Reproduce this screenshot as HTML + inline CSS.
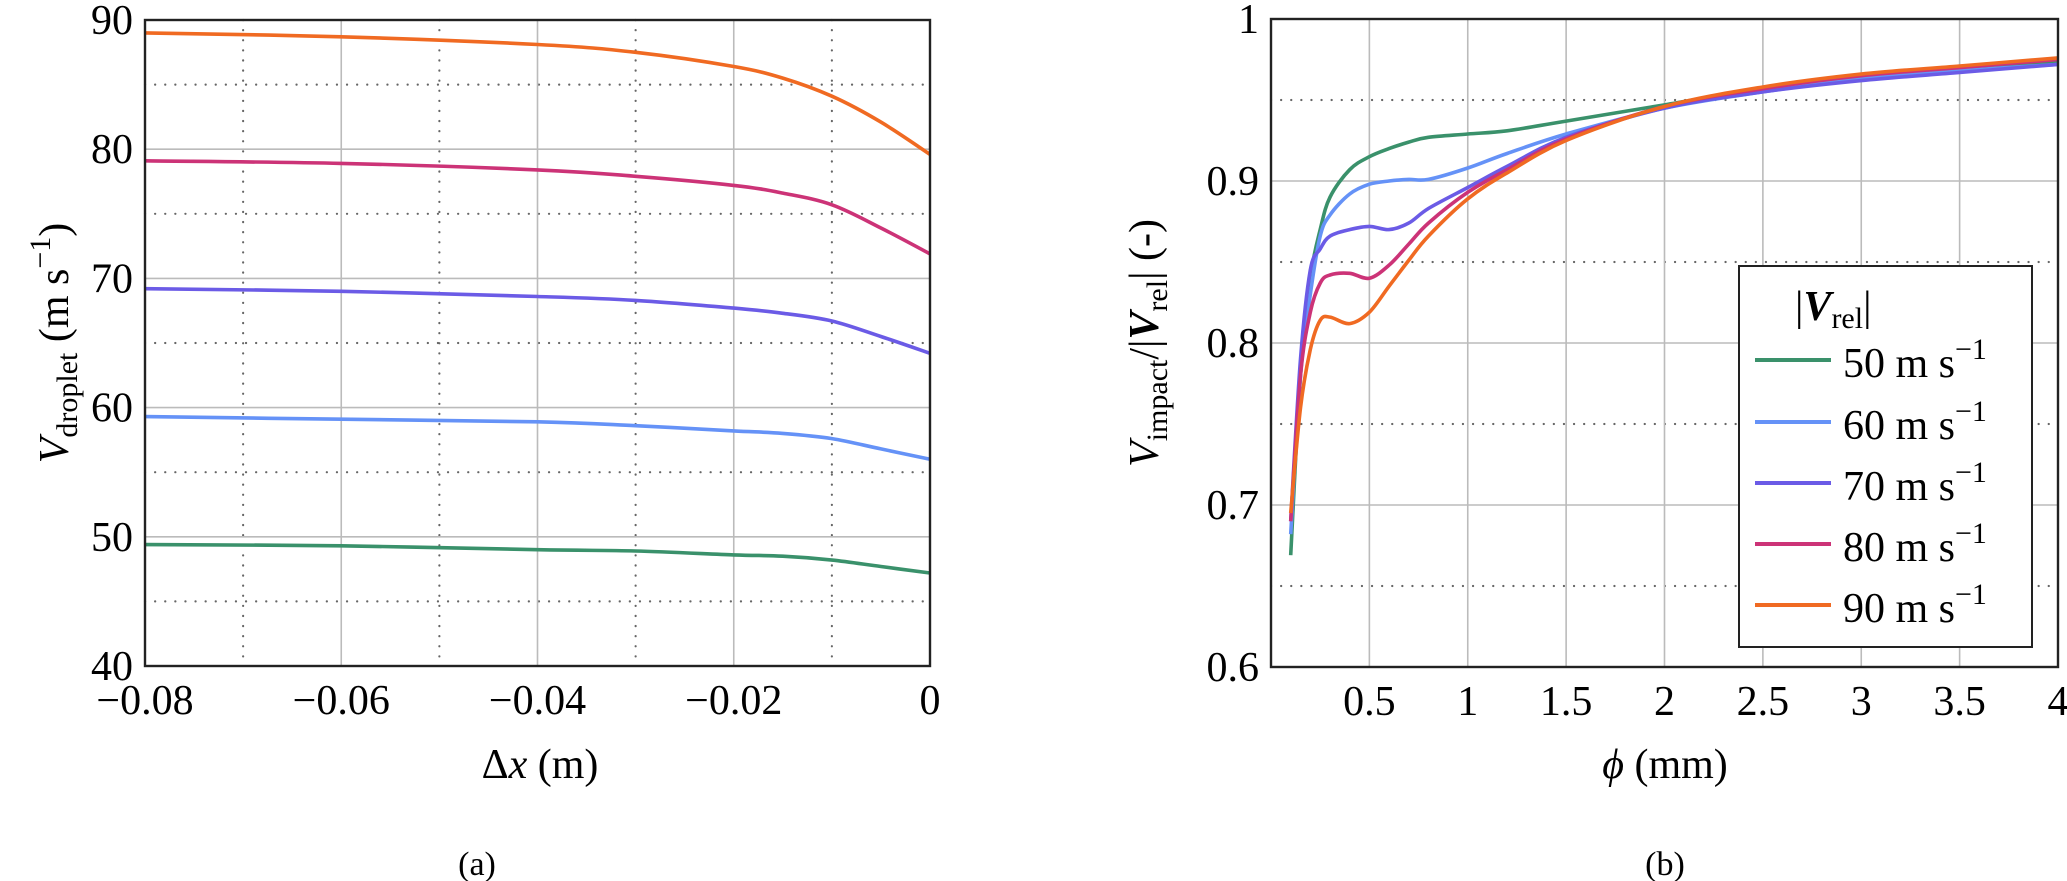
<!DOCTYPE html>
<html><head><meta charset="utf-8"><style>
html,body{margin:0;padding:0;background:#fff;}
svg{display:block;font-family:"Liberation Serif",serif;}
svg text, svg tspan{font-family:"Liberation Serif","DejaVu Serif",serif;}
</style></head><body>
<svg id="fig" width="2067" height="881" viewBox="0 0 2067 881" xmlns="http://www.w3.org/2000/svg" font-family="Liberation Serif, serif">
<g id="ga"></g>
<g id="gb"></g>
</svg>
<script>
const colors=["#3a916b","#6592f7","#6b5be6","#cc3377","#f06a22"];
const seriesNames=["50","60","70","80","90"];
// Chart (a)
const xA=[-0.08,-0.06,-0.04,-0.03,-0.02,-0.015,-0.01,-0.005,0];
const vA50=[49.4,49.3,49.0,48.9,48.6,48.5,48.2,47.7,47.2];
const vA60=[59.3,59.1,58.9,58.6,58.2,58.0,57.6,56.8,56.0];
const vA70=[69.2,69.0,68.6,68.3,67.7,67.3,66.7,65.5,64.2];
const vA80=[79.1,78.9,78.4,77.9,77.2,76.6,75.7,73.9,71.9];
const vA90=[89.0,88.7,88.1,87.5,86.4,85.5,84.1,82.1,79.6];
const xTicksA=[-0.08,-0.06,-0.04,-0.02,0];
const xTickLabelsA=["\u22120.08","\u22120.06","\u22120.04","\u22120.02","0"];
const yTicksA=[40,50,60,70,80,90];
// Chart (b)
const xB=[0.1,0.15,0.2,0.25,0.3,0.4,0.5,0.6,0.7,0.8,1.0,1.2,1.5,2,2.5,3,3.5,4];
const vB50=[0.669,0.78,0.84,0.87,0.89,0.907,0.915,0.920,0.924,0.927,0.929,0.931,0.937,0.947,0.957,0.964,0.969,0.974];
const vB60=[0.682,0.78,0.83,0.866,0.879,0.892,0.898,0.900,0.901,0.901,0.908,0.917,0.929,0.945,0.955,0.963,0.968,0.972];
const vB70=[0.69,0.79,0.845,0.858,0.866,0.870,0.872,0.870,0.874,0.883,0.896,0.909,0.927,0.945,0.955,0.962,0.967,0.972];
const vB80=[0.69,0.78,0.819,0.837,0.842,0.843,0.840,0.848,0.861,0.874,0.893,0.907,0.926,0.946,0.957,0.965,0.970,0.975];
const vB90=[0.695,0.76,0.796,0.814,0.816,0.812,0.819,0.835,0.851,0.866,0.889,0.905,0.925,0.946,0.958,0.966,0.971,0.976];
const xTicksB=[0.5,1,1.5,2,2.5,3,3.5,4];
const xTickLabelsB=["0.5","1","1.5","2","2.5","3","3.5","4"];
const yTicksB=[0.6,0.7,0.8,0.9,1];
const yTickLabelsB=["0.6","0.7","0.8","0.9","1"];

const NS="http://www.w3.org/2000/svg";
function mk(parent,tag,attrs){const e=document.createElementNS(NS,tag);for(const k in attrs)e.setAttribute(k,attrs[k]);parent.appendChild(e);return e;}
function pathD(xs,ys,sx,sy){
  const p=xs.map((x,i)=>[sx(x),sy(ys[i])]);
  let d="M"+p[0][0].toFixed(1)+","+p[0][1].toFixed(1);
  for(let i=0;i<p.length-1;i++){
    const p0=p[Math.max(0,i-1)],p1=p[i],p2=p[i+1],p3=p[Math.min(p.length-1,i+2)];
    const c1=[p1[0]+(p2[0]-p0[0])/6,p1[1]+(p2[1]-p0[1])/6];
    const c2=[p2[0]-(p3[0]-p1[0])/6,p2[1]-(p3[1]-p1[1])/6];
    d+=" C"+c1[0].toFixed(1)+","+c1[1].toFixed(1)+" "+c2[0].toFixed(1)+","+c2[1].toFixed(1)+" "+p2[0].toFixed(1)+","+p2[1].toFixed(1);
  }
  return d;
}
const FS=42;
// ---- Chart A ----
(function(){
  const g=document.getElementById('ga');
  const L=145,R=930,T=20,B=666;
  const sx=x=>L+(x+0.08)/0.08*(R-L);
  const sy=y=>B-(y-40)/50*(B-T);
  [-0.07,-0.05,-0.03,-0.01].forEach(v=>{const l=mk(g,'line',{x1:sx(v),x2:sx(v),y1:T,y2:B,stroke:'#666','stroke-width':2.2,'stroke-dasharray':'0.1 10','stroke-linecap':'round'});
    
    });
  [45,55,65,75,85].forEach(v=>{const l=mk(g,'line',{x1:L,x2:R,y1:sy(v),y2:sy(v),stroke:'#666','stroke-width':2.2,'stroke-dasharray':'0.1 10','stroke-linecap':'round'});
    
    });
  xTicksA.forEach((v,i)=>{const l=mk(g,'line',{x1:sx(v),x2:sx(v),y1:T,y2:B,stroke:'#bbb','stroke-width':1.6});
    
    
    const t=mk(g,'text',{x:sx(v),y:B+48,'font-size':FS,'text-anchor':'middle'});t.textContent=xTickLabelsA[i];
    
    });
  yTicksA.forEach(v=>{const l=mk(g,'line',{x1:L,x2:R,y1:sy(v),y2:sy(v),stroke:'#bbb','stroke-width':1.6});
    
    
    const t=mk(g,'text',{x:L-12,y:sy(v)+14,'font-size':FS,'text-anchor':'end'});t.textContent=String(v);
    
    });
  const ser=[vA50,vA60,vA70,vA80,vA90];
  ser.forEach((s,i)=>{const p=mk(g,'path',{d:pathD(xA,s,sx,sy),fill:'none',stroke:colors[i],'stroke-width':3.6});
    
    });
  const f=mk(g,'rect',{x:L,y:T,width:R-L,height:B-T,fill:'none',stroke:'#222','stroke-width':2.4});
  
  
})();
// ---- Chart B ----
(function(){
  const g=document.getElementById('gb');
  const L=1271,R=2058,T=19,B=667;
  const sx=x=>L+x/4*(R-L);
  const sy=y=>B-(y-0.6)/0.4*(B-T);
  [0.65,0.75,0.85,0.95].forEach(v=>{const l=mk(g,'line',{x1:L,x2:R,y1:sy(v),y2:sy(v),stroke:'#666','stroke-width':2.2,'stroke-dasharray':'0.1 10','stroke-linecap':'round'});
    
    });
  xTicksB.forEach((v,i)=>{const l=mk(g,'line',{x1:sx(v),x2:sx(v),y1:T,y2:B,stroke:'#bbb','stroke-width':1.6});
    
    
    const t=mk(g,'text',{x:sx(v),y:B+48,'font-size':FS,'text-anchor':'middle'});t.textContent=xTickLabelsB[i];
    
    });
  yTicksB.forEach((v,i)=>{const l=mk(g,'line',{x1:L,x2:R,y1:sy(v),y2:sy(v),stroke:'#bbb','stroke-width':1.6});
    
    
    const t=mk(g,'text',{x:L-12,y:sy(v)+14,'font-size':FS,'text-anchor':'end'});t.textContent=yTickLabelsB[i];
    
    });
  const ser=[vB50,vB60,vB70,vB80,vB90];
  ser.forEach((s,i)=>{const p=mk(g,'path',{d:pathD(xB,s,sx,sy),fill:'none',stroke:colors[i],'stroke-width':3.6});
    
    });
  const f=mk(g,'rect',{x:L,y:T,width:R-L,height:B-T,fill:'none',stroke:'#222','stroke-width':2.4});
  
  
  // legend
  const lg=mk(g,'g',{});
  
  
  mk(lg,'rect',{x:1739,y:266,width:293,height:381,fill:'#fff',stroke:'#222','stroke-width':2});
  const tt=mk(lg,'text',{x:1795,y:320,'font-size':FS});
  tt.innerHTML='|<tspan font-weight="bold" font-style="italic">V</tspan><tspan font-size="30" dy="8">rel</tspan><tspan dy="-8">|</tspan>';
  
  
  const ys=[363,425,486,547,608];
  seriesNames.forEach((n,i)=>{
    const l=mk(lg,'line',{x1:1755,x2:1831,y1:ys[i]-3,y2:ys[i]-3,stroke:colors[i],'stroke-width':4});
    
    
    const t=mk(lg,'text',{x:1843,y:ys[i]+14,'font-size':FS});
    t.innerHTML=n+' m s<tspan font-size="30" dy="-18">\u22121</tspan>';
    
    
  });
})();
</script>
<script>
(function(){
  const s=document.getElementById('fig');
  const NS="http://www.w3.org/2000/svg";
  function txt(html,attrs,name){const t=document.createElementNS(NS,'text');for(const k in attrs)t.setAttribute(k,attrs[k]);t.innerHTML=html;s.appendChild(t);
    
    }
  txt('<tspan font-style="italic">V</tspan><tspan font-size="30" dy="9">droplet</tspan><tspan dy="-9"> (m s</tspan><tspan font-size="30" dy="-18">\u22121</tspan><tspan dy="18">)</tspan>',
    {x:0,y:0,'font-size':42,'text-anchor':'middle',transform:'translate(68,343) rotate(-90)'},'y-axis-title-a');
  txt('<tspan font-style="italic">V</tspan><tspan font-size="30" dy="9">impact</tspan><tspan dy="-9">/|</tspan><tspan font-weight="bold" font-style="italic">V</tspan><tspan font-size="30" dy="9">rel</tspan><tspan dy="-9">| (-)</tspan>',
    {x:0,y:0,'font-size':42,'text-anchor':'middle',transform:'translate(1158,343) rotate(-90)'},'y-axis-title-b');
  txt('\u0394<tspan font-style="italic">x</tspan> (m)',{x:540,y:778,'font-size':42,'text-anchor':'middle'},'x-axis-title-a');
  txt('<tspan font-style="italic">\u03d5</tspan> (mm)',{x:1665,y:778,'font-size':42,'text-anchor':'middle'},'x-axis-title-b');
  txt('(a)',{x:477,y:875,'font-size':34,'text-anchor':'middle'},'caption-a');
  txt('(b)',{x:1665,y:875,'font-size':34,'text-anchor':'middle'},'caption-b');
})();
</script>
</body></html>
